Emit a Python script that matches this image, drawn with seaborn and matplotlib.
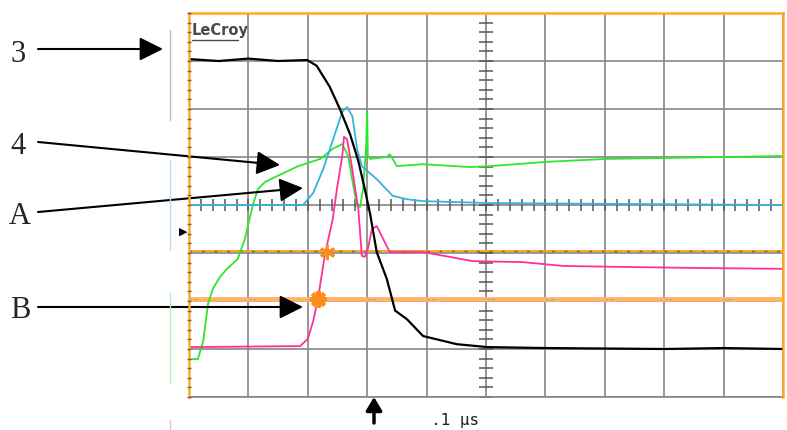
import numpy as np
import matplotlib
matplotlib.use("Agg")
import matplotlib.pyplot as plt
from matplotlib.lines import Line2D
import seaborn as sns

# ── Trazas del osciloscopio (x en divisiones 0..10, y en divisiones -4..4) ──
black_x = [0, 0.5, 1.0, 1.5, 1.99, 2.15, 2.37, 2.54, 2.71, 2.85, 2.96, 3.05,
           3.16, 3.33, 3.47, 3.67, 3.94, 4.51, 5.02, 6.0, 7.0, 8.0, 9.0, 10]
black_y = [3.04, 3.0, 3.05, 3.0, 3.02, 2.9, 2.46, 2.0, 1.48, 0.92, 0.33, -0.19,
           -0.98, -1.54, -2.2, -2.38, -2.73, -2.9, -2.96, -2.98, -2.99, -3.0, -2.98, -3.0]

cyan_x = [0, 1.92, 2.09, 2.26, 2.43, 2.58, 2.66, 2.75, 2.83, 2.91, 3.0, 3.16,
          3.43, 3.67, 3.94, 5.07, 10]
cyan_y = [0, 0, 0.25, 0.75, 1.38, 1.94, 2.04, 1.85, 1.17, 0.81, 0.71, 0.54,
          0.19, 0.12, 0.08, 0.04, 0]

green_x = [0.02, 0.15, 0.24, 0.32, 0.40, 0.52, 0.64, 0.82, 0.94, 1.03, 1.08,
           1.16, 1.28, 1.48, 1.84, 2.21, 2.42, 2.58, 2.68, 2.76, 2.83, 2.88,
           2.93, 2.98, 3.0, 3.01, 3.05, 3.33, 3.38, 3.50, 3.94, 4.73, 5.07,
           6.03, 7.04, 8.05, 8.99, 10]
green_y = [-3.21, -3.21, -2.83, -2.06, -1.75, -1.5, -1.33, -1.125, -0.71, -0.23, 0.02,
           0.33, 0.48, 0.60, 0.81, 0.96, 1.17, 1.27, 1.02, 0.44, -0.02, -0.04,
           0.33, 1.17, 1.96, 1.02, 0.96, 1.0, 1.06, 0.81, 0.85, 0.79, 0.81,
           0.90, 0.96, 0.98, 1.0, 1.02]

mag_x = [0, 1.87, 2.0, 2.09, 2.17, 2.29, 2.42, 2.49, 2.58, 2.61, 2.66, 2.74,
         2.85, 2.91, 2.96, 3.01, 3.08, 3.16, 3.27, 3.38, 3.94, 4.78, 5.62,
         6.30, 7.31, 8.43, 10]
mag_y = [-2.96, -2.94, -2.79, -2.42, -1.96, -1.02, -0.29, 0.33, 1.02, 1.42, 1.375, 0.81,
         -0.08, -1.06, -1.08, -0.92, -0.5, -0.44, -0.71, -0.98, -0.98, -1.17, -1.19,
         -1.27, -1.29, -1.31, -1.33]

# cursores y marcas
cursor_levels = [-0.96, -1.96]
cursor_marks_x = [2.32, 2.17]
cursor_marks_y = [-0.98, -1.96]

W, H = 787, 430


def F(px, py):
    # pixel (desde arriba-izquierda) -> fracción de figura
    return (px / W, 1 - py / H)


sns.set_style("white")
plt.rcParams["font.family"] = ["DejaVu Sans"]

fig = plt.figure(figsize=(W / 100, H / 100), dpi=100)
fig.patch.set_facecolor("white")
ax = fig.add_axes([189 / W, (H - 397) / H, (783 - 189) / W, (397 - 13) / H])
ax.set_xlim(0, 10)
ax.set_ylim(-4, 4)

# rejilla
ax.set_xticks(range(11))
ax.set_yticks(range(-4, 5))
ax.grid(True, color="#858585", lw=1.2)
ax.tick_params(length=0, labelbottom=False, labelleft=False)
for s in ["top", "left", "right"]:
    ax.spines[s].set_color("#ffa91f")
    ax.spines[s].set_linewidth(1.8)
    ax.spines[s].set_zorder(5)
ax.spines["bottom"].set_color("#858585")
ax.spines["bottom"].set_linewidth(1.2)

# marcas del eje central
minor_x = np.arange(0, 10.01, 0.2)
minor_y = np.arange(-4, 4.01, 0.2)
ax.plot(minor_x, np.zeros_like(minor_x), ls="none", marker="|", ms=9,
        mew=1.1, color="#555555", zorder=2)
ax.plot(np.full_like(minor_y, 5), minor_y, ls="none", marker="_", ms=10,
        mew=1.1, color="#555555", zorder=2)
ax.plot(np.zeros_like(minor_y), minor_y, ls="none", marker="_", ms=3,
        mew=1, color="#666666", zorder=6, clip_on=False)

# cursores
ax.axhline(cursor_levels[0], color="#ffa31a", lw=1.4, zorder=2)
ax.axhline(cursor_levels[0], color="#666666", lw=1, dashes=(2, 7), zorder=2)
ax.axhline(cursor_levels[1], color="#ffb366", lw=3.4, zorder=2)
ax.axhline(cursor_levels[1], color="#aaaaaa", lw=1,
           dashes=(1.8, 1.8, 1.8, 37.4), dash_capstyle="butt", zorder=2)

# trazas
sns.lineplot(x=green_x, y=green_y, ax=ax, color="#2fe62f", lw=1.3,
             estimator=None, sort=False, zorder=3)
sns.lineplot(x=cyan_x, y=cyan_y, ax=ax, color="#33b4dc", lw=1.3,
             estimator=None, sort=False, zorder=3)
sns.lineplot(x=mag_x, y=mag_y, ax=ax, color="#ff2f95", lw=1.3,
             estimator=None, sort=False, zorder=3)
sns.lineplot(x=black_x, y=black_y, ax=ax, color="black", lw=1.6,
             estimator=None, sort=False, zorder=4)

ax.plot(cursor_marks_x[:1], cursor_marks_y[:1], ls="none", marker=(6, 2, 0),
        ms=11, mew=2, color="#ff8c1a", zorder=5)
ax.plot(cursor_marks_x[1:], cursor_marks_y[1:], ls="none", marker=(8, 2, 0),
        ms=12, mew=3, color="#ff8c1a", zorder=5)

# logotipo
fig.text(*F(192, 30), "LeCroy", ha="left", va="center", fontsize=10.5,
         color="#4a4a4a", fontweight="bold")
fig.add_artist(Line2D([192 / W, 238 / W], [1 - 40 / H, 1 - 40 / H],
                      transform=fig.transFigure, color="#4a4a4a", lw=1))

# indicadores de canal a la izquierda
for (y0, y1, c) in [(30, 120, "#bbbbbb"), (160, 250, "#b5dcf5"),
                    (293, 383, "#b5f0b5"), (420, 430, "#ffb3dd")]:
    fig.add_artist(Line2D([170 / W, 170 / W], [1 - y0 / H, 1 - y1 / H],
                          transform=fig.transFigure, color=c, lw=1))
fig.text(*F(183, 232), "\u25B6", ha="center", va="center", fontsize=8,
         color="black")

# etiquetas y flechas
labels = ["3", "4", "A", "B"]
label_pos = [(18, 54), (18, 147), (20, 216), (20, 311)]
arrow_tail = [(38, 49), (38, 142), (38, 212), (38, 307)]
arrow_tip = [(163, 49), (280, 165), (303, 188), (303, 307)]
for lab, p, t0, t1 in zip(labels, label_pos, arrow_tail, arrow_tip):
    fig.text(*F(*p), lab, ha="center", va="center", fontsize=22,
             family="Liberation Serif")
    ax.annotate("", xy=F(*t1), xytext=F(*t0), xycoords="figure fraction",
                textcoords="figure fraction",
                arrowprops=dict(arrowstyle="-|>,head_length=1.0,head_width=0.5",
                                mutation_scale=14.4, color="black", lw=1.5,
                                shrinkA=0, shrinkB=0))

# disparo y escala de tiempo
ax.annotate("", xy=F(374, 397), xytext=F(374, 423), xycoords="figure fraction",
            textcoords="figure fraction",
            arrowprops=dict(arrowstyle="-|>,head_length=0.5,head_width=0.3",
                            mutation_scale=16, color="black", lw=2.5,
                            shrinkA=0, shrinkB=0))
fig.text(*F(455, 420), ".1 \u03bcs", ha="center", va="center", fontsize=11.5,
         family="DejaVu Sans Mono", color="#222222")

fig.savefig("out.png", dpi=100, facecolor="white")
